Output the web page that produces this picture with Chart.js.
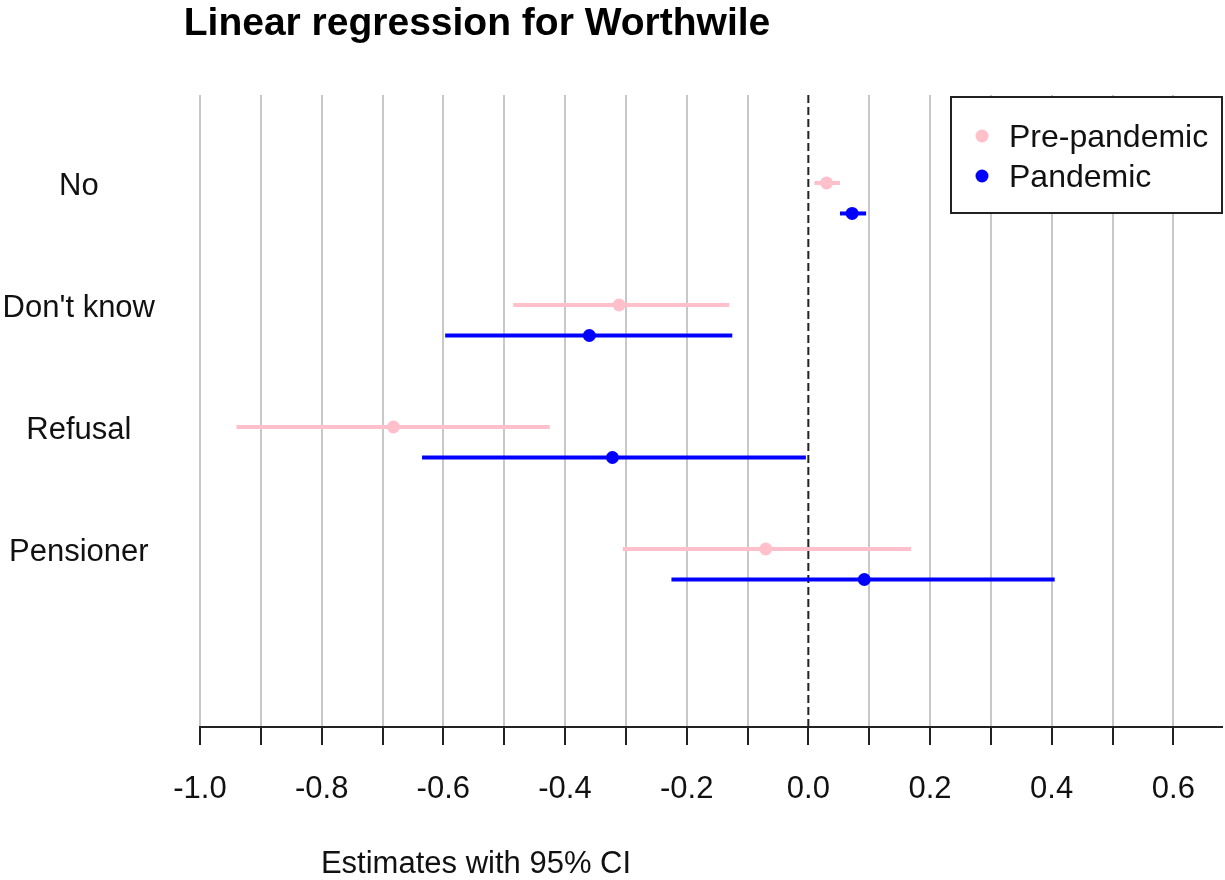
<!DOCTYPE html>
<html>
<head>
<meta charset="utf-8">
<title>Linear regression for Worthwile</title>
<script src="https://cdn.jsdelivr.net/npm/chart.js@4"></script>
<style>
  body { margin: 0; background: #fff; }
  #wrap { width: 1225px; height: 880px; }
</style>
</head>
<body>
<div id="wrap"><canvas id="chart" width="1225" height="880"></canvas></div>
<script>
// Categories, top to bottom
const categories = ['No', "Don't know", 'Refusal', 'Pensioner'];
const categoryPos = [4, 3, 2, 1];
const pandemicShift = 0.25; // pandemic row sits just below the pre-pandemic one

// Estimates and 95% CI bounds
const preEstimate = [0.030, -0.311, -0.682, -0.070];
const preLower    = [0.010, -0.485, -0.940, -0.305];
const preUpper    = [0.052, -0.130, -0.425, 0.169];

const panEstimate = [0.072, -0.360, -0.322, 0.092];
const panLower    = [0.052, -0.597, -0.635, -0.225];
const panUpper    = [0.095, -0.125, -0.004, 0.405];

// x axis ticks (every 0.1, labelled every 0.2)
const xTickValues = [-1.0, -0.9, -0.8, -0.7, -0.6, -0.5, -0.4, -0.3, -0.2, -0.1, 0.0, 0.1, 0.2, 0.3, 0.4, 0.5, 0.6];
const xTickLabels = ['-1.0', '', '-0.8', '', '-0.6', '', '-0.4', '', '-0.2', '', '0.0', '', '0.2', '', '0.4', '', '0.6'];

const PINK = '#FFC0CB';
const BLUE = '#0000FF';
const FONT = '"Liberation Sans", Arial, sans-serif';

const X_MIN = -1.0, X_MAX = 0.68;
const Y_MIN = -0.459, Y_MAX = 4.721;

function ciSegments(lower, upper, shift, color, label) {
    return categories.map((c, i) => ({
        label: label,
        type: 'line',
        data: [
            { x: lower[i], y: categoryPos[i] - shift },
            { x: upper[i], y: categoryPos[i] - shift }
        ],
        borderColor: color,
        borderWidth: 4,
        pointRadius: 0,
        order: 1
    }));
}

function estimatePoints(est, shift, color, label) {
    return {
        label: label,
        type: 'scatter',
        data: est.map((v, i) => ({ x: v, y: categoryPos[i] - shift })),
        backgroundColor: color,
        borderWidth: 0,
        pointRadius: 6.5,
        pointHoverRadius: 6.5,
        order: 0
    };
}

// Title, x-axis caption and the boxed legend
const decorations = {
    id: 'decorations',
    afterDraw(chart) {
        const ctx = chart.ctx;
        const area = chart.chartArea;
        ctx.save();

        ctx.fillStyle = '#000';
        ctx.textAlign = 'center';
        ctx.textBaseline = 'alphabetic';
        ctx.font = 'bold 39px ' + FONT;
        ctx.fillText('Linear regression for Worthwile', 477, 35);

        ctx.fillStyle = '#111';
        ctx.font = '31px ' + FONT;
        ctx.fillText('Estimates with 95% CI', 476, 873);

        // legend box
        const bx = 951, by = area.top + 2, bw = area.right - 951, bh = 116;
        ctx.fillStyle = '#fff';
        ctx.fillRect(bx, by, bw, bh);
        ctx.strokeStyle = '#222';
        ctx.lineWidth = 2;
        ctx.strokeRect(bx, by, bw, bh);

        const items = [
            { text: 'Pre-pandemic', color: PINK, y: by + 39 },
            { text: 'Pandemic', color: BLUE, y: by + 79 }
        ];
        ctx.textAlign = 'left';
        ctx.textBaseline = 'middle';
        ctx.font = '32px ' + FONT;
        items.forEach(it => {
            ctx.fillStyle = it.color;
            ctx.beginPath();
            ctx.arc(bx + 31, it.y, 6.5, 0, Math.PI * 2);
            ctx.fill();
            ctx.fillStyle = '#111';
            ctx.fillText(it.text, bx + 58, it.y + 2);
        });
        ctx.restore();
    }
};

const datasets = [
    estimatePoints(preEstimate, 0, PINK, 'Pre-pandemic'),
    estimatePoints(panEstimate, pandemicShift, BLUE, 'Pandemic'),
    ...ciSegments(preLower, preUpper, 0, PINK, 'Pre-pandemic CI'),
    ...ciSegments(panLower, panUpper, pandemicShift, BLUE, 'Pandemic CI'),
    {
        label: 'zero',
        type: 'line',
        data: [{ x: 0, y: Y_MIN }, { x: 0, y: Y_MAX }],
        borderColor: '#222',
        borderWidth: 2,
        borderDash: [8, 4],
        pointRadius: 0,
        order: 2
    }
];

new Chart(document.getElementById('chart'), {
    type: 'scatter',
    data: { datasets: datasets },
    options: {
        responsive: false,
        animation: false,
        layout: { autoPadding: false, padding: { top: 95, right: 3, left: 0, bottom: 0 } },
        plugins: {
            legend: { display: false },
            title: { display: false },
            tooltip: { enabled: false }
        },
        scales: {
            x: {
                type: 'linear',
                min: X_MIN,
                max: X_MAX,
                afterBuildTicks(scale) {
                    scale.ticks = xTickValues.map(v => ({ value: v }));
                },
                afterFit(scale) {
                    scale.height = 880 - 727;
                    scale.paddingLeft = 0;
                    scale.paddingRight = 0;
                },
                ticks: {
                    autoSkip: false,
                    maxRotation: 0,
                    padding: 26,
                    color: '#111',
                    font: { family: FONT, size: 31 },
                    callback: (v, i) => xTickLabels[i]
                },
                grid: {
                    color: ctx => (ctx.tick && ctx.tick.value === 0) ? 'rgba(0,0,0,0)' : '#c8c8c8',
                    lineWidth: 2,
                    drawTicks: true,
                    tickLength: 18,
                    tickColor: '#222',
                    tickWidth: 2
                },
                border: { display: true, color: '#222', width: 2 }
            },
            y: {
                type: 'linear',
                min: Y_MIN,
                max: Y_MAX,
                afterBuildTicks(scale) {
                    scale.ticks = categoryPos.map(v => ({ value: v }));
                },
                afterFit(scale) { scale.width = 200; },
                ticks: {
                    autoSkip: false,
                    crossAlign: 'center',
                    padding: 45,
                    labelOffset: 3,
                    color: '#111',
                    font: { family: FONT, size: 31 },
                    callback: v => categories[categoryPos.indexOf(v)]
                },
                grid: { display: false, drawTicks: false },
                border: { display: false }
            }
        }
    },
    plugins: [decorations]
});
</script>
</body>
</html>
